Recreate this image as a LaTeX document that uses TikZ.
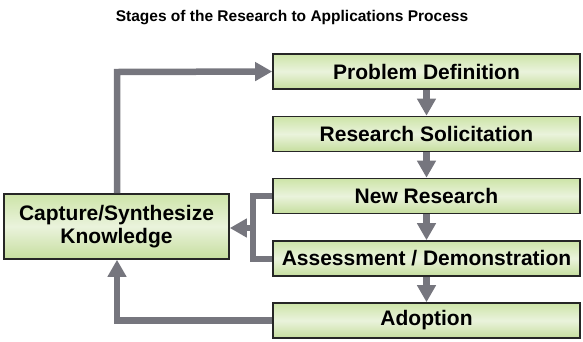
\documentclass[tikz,border=0pt]{standalone}
\usepackage{fontspec}
\setmainfont{Liberation Sans}
\usetikzlibrary{arrows.meta}
\definecolor{arrowgray}{HTML}{76767E}
\definecolor{gtop}{HTML}{CDE4A8}
\definecolor{gmid}{HTML}{EAF3DC}
\definecolor{gbot}{HTML}{C6DE9E}
\tikzset{
  stagebox/.style={draw=black!85, line width=1.6pt, top color=gtop, bottom color=gbot, middle color=gmid,
    minimum height=35pt, inner sep=0pt, font=\fontsize{21}{23}\selectfont\bfseries, align=center},
  flowarrow/.style={draw=arrowgray, line width=6.5pt, -{Triangle[width=18pt,length=17pt]}},
  flowline/.style={draw=arrowgray, line width=6pt}
}
\begin{document}
\begin{tikzpicture}[x=1pt,y=-1pt]
\useasboundingbox (0,0) rectangle (583,341);
\node[font=\fontsize{15.5}{17}\selectfont\bfseries] (title) at (292,18) {Stages of the Research to Applications Process};
\node[stagebox, minimum width=307pt] (pd) at (426.5,71.5) {Problem Definition};
\node[stagebox, minimum width=307pt] (rs) at (426.5,134) {Research Solicitation};
\node[stagebox, minimum width=307pt] (nr) at (426.5,196) {New Research};
\node[stagebox, minimum width=307pt] (ad) at (426.5,258.5) {Assessment / Demonstration};
\node[stagebox, minimum width=307pt] (ap) at (426.5,320.5) {Adoption};
\node[stagebox, minimum width=225pt, minimum height=65pt] (ck) at (116.5,226.5) {Capture/Synthesize\\Knowledge};
\coordinate (bx) at (253,228);
\draw[flowarrow] (pd.south) -- (rs.north);
\draw[flowarrow] (rs.south) -- (nr.north);
\draw[flowarrow] (nr.south) -- (ad.north);
\draw[flowarrow] (ad.south) -- (ap.north);
\draw[flowarrow] (ck.north -| 117,0) -- (117,72) -- (pd.west);
\draw[flowarrow] (ap.west) -- (117,320.5) -- (ck.south -| 117,0);
\draw[flowline] (nr.west) -- (nr.west -| bx) -- (ad.west -| bx) -- (ad.west);
\draw[flowarrow] (bx) -- (ck.east |- bx);
\end{tikzpicture}
\end{document}
